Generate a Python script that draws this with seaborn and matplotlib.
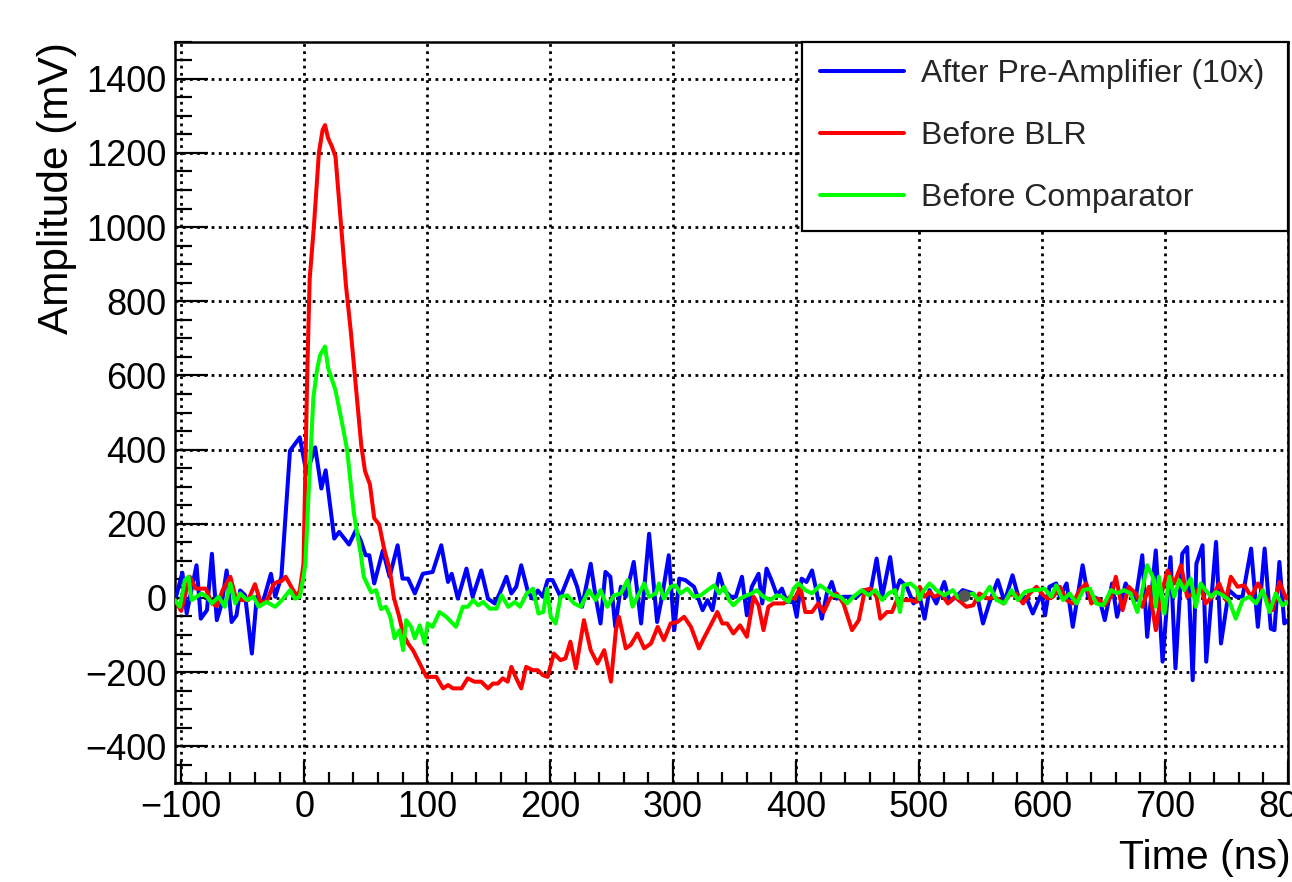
import matplotlib
matplotlib.use("Agg")
import matplotlib.pyplot as plt
import pandas as pd
import seaborn as sns
from matplotlib.ticker import MultipleLocator

# ---- series labels and colours ----
labels = ["After Pre-Amplifier (10x)", "Before BLR", "Before Comparator"]
colors = ["#0000ff", "#ff0000", "#00ff00"]

# ---- After pre-amplifier (x10), time in ns, amplitude in mV ----
preamp_t = [-104, -99, -95.5, -87.5, -84, -79, -75, -71, -67, -63, -59, -55, -52, -48, -42.5,
            -38.5, -34, -31.5, -27, -23.5, -18.5, -11.5, -3.5, 2, 9, 14, 17.5, 24.5, 28.5,
            36.5, 42, 46, 50, 53, 57, 64, 69.5, 76, 80, 84.5, 90, 96.5, 104.5, 111.5, 117,
            120, 125, 132, 137, 144, 149.5, 155, 159, 164.5, 168.5, 172.5, 176.5, 182, 186,
            190, 194, 198, 202, 208.5, 217, 222, 226, 233, 237, 241, 245, 249, 253, 257.5,
            261.5, 268, 274, 280.5, 287, 291, 296.5, 301, 305, 310, 317, 324, 328, 332,
            337.5, 341.5, 347, 351, 356, 360, 364, 369.5, 372.5, 376, 380, 384.5, 388.5,
            392.5, 398, 400.5, 404.5, 408.5, 413, 417, 421, 425, 429, 433, 438.5, 444,
            449.5, 455, 460, 465.5, 470, 476.5, 480.5, 484.5, 490, 495.5, 500.5, 504.5,
            508.5, 514, 520.5, 525, 530, 535.5, 544, 548, 552, 557, 564, 569.5, 576, 581.5,
            587, 592.5, 599.5, 602.5, 606, 611.5, 614.5, 620, 625, 633, 637.5, 641.5, 647,
            651, 657, 661, 668, 672, 676, 681.5, 685.5, 692.5, 698, 704.5, 708.5, 714, 718,
            722.5, 725.5, 730.5, 733.5, 741.5, 745.5, 752, 758, 763, 770, 775.5, 781, 786,
            789, 793, 797, 800]
preamp_v = [5, 68, -42, 88, -56, -33, 119, -60, -15, 74, -65, -47, 20, 7, -150,
            3, -15, 12, 65, 3, 57, 397, 433, 335, 406, 295, 344, 160, 178,
            144, 182, 155, 115, 115, 39, 128, 57, 142, 52, 52, 12, 65, 70, 142, 43,
            65, -2, 79, 3, 74, -2, -15, 12, 57, 12, 30, 88, 16, -2,
            20, 3, 48, 48, 3, 74, 30, -24, 92, 3, -69, 70, 57, -78, 30,
            3, 97, -69, 173, -65, 3, 115, -87, 52, 48, 30, -33, -6, -33,
            65, 21, 3, 3, 57, -47, 30, 65, -15, 79, 48, 7, 25,
            -11, -11, -51, 52, 43, 74, 12, -56, 12, 43, -2, 3, 3,
            3, 21, 7, 106, 3, 110, 12, 48, 30, -15, 3, -56,
            21, -15, 43, -11, 3, 21, 12, -6, -69, -15, 48, -11, 61, -6,
            3, -42, 12, -47, 30, 39, 3, 39, -78, 88, 3, 3, -6,
            -60, 39, -51, 39, 12, -6, 115, -105, 128, -172, 110, -190, 119, 137,
            -222, 92, 142, -172, 151, -123, 21, 3, 3, 133, -78, 133, -83,
            -87, 97, -69, -60]

# ---- Before baseline restorer ----
blr_t = [-105, -100, -93, -88, -80, -75, -71, -66, -60, -56, -51, -45.5, -40, -35, -30, -25,
         -22, -18.5, -15, -10, -6, -3.5, -0.5, 2.5, 4.5, 8, 12, 15, 17, 19.5, 22.5, 25.5, 30,
         34, 38, 42, 46.5, 49.5, 53.5, 57, 61, 65, 69.5, 73, 77, 80.5, 84.5, 88.5, 94, 99.5,
         107.5, 113, 117, 121, 128, 133, 138.5, 144, 149.5, 153.5, 157.5, 161.5, 165.5,
         168.5, 172.5, 176.5, 180.5, 186, 190, 194, 198, 203, 208.5, 212.5, 216.5, 221,
         227.5, 233, 238.5, 244, 249.5, 253.5, 256, 261.5, 265.5, 271, 276.5, 282, 287.5,
         292.5, 298, 303.5, 309, 314.5, 321, 325, 330.5, 336, 340, 344, 349, 354.5, 360,
         365.5, 369.5, 373.5, 377.5, 381.5, 390, 395, 399, 403.5, 407.5, 413, 418, 422.5,
         427.5, 433, 438.5, 445.5, 451, 456, 460.5, 465.5, 468.5, 474, 478, 482, 487.5,
         493, 498, 500.5, 504.5, 508.5, 512.5, 518, 523.5, 529, 538.5, 544, 549, 556,
         561.5, 568.5, 573.5, 579, 584.5, 590, 595.5, 601, 605, 609, 614.5, 620, 625,
         630.5, 636, 640, 645.5, 651, 656, 660, 665.5, 670.5, 676, 681.5, 687, 692.5,
         696.5, 702, 707.5, 713, 718, 723.5, 729, 733, 738.5, 744, 749.5, 753.5, 759,
         764.5, 770, 775.5, 782, 787.5, 793, 798.5, 800]
blr_v = [-6, -35, 57, 25, 25, -15, -22, 23, 57, 5, -6, -6, 37, -15, -6, 36,
         43, 45, 57, 27, 5, 20, 92, 600, 860, 1005, 1200, 1262, 1275, 1240, 1218, 1190, 1007,
         843, 717, 573, 410, 342, 306, 215, 198, 133, 78, 0, -47, -96, -123, -141, -177, -213,
         -213, -244, -235, -244, -244, -217, -226, -226, -244, -231, -231, -217, -226,
         -186, -217, -244, -186, -195, -195, -208, -213, -150, -168, -163, -118, -190,
         -60, -141, -177, -141, -226, -87, -51, -136, -127, -96, -136, -123, -78,
         -114, -69, -65, -51, -78, -136, -109, -74, -38, -69, -69, -96, -74, -105,
         3, -20, -87, -24, -15, -15, 3, -2, 30, -38, -38, -15, -38,
         -2, 12, -15, -87, -60, 21, 25, 3, -56, -38, -38, -6, -6,
         -6, -11, 30, 3, 16, 3, 12, -15, 3, -24, -20, 12, -2,
         3, -15, 7, 12, -15, 12, 30, 7, -2, 3, 30, -6, -15,
         21, 39, -15, -2, -20, 3, 57, -33, 30, 12, -24, 30, -87,
         3, 74, 39, 88, 3, 12, 30, -15, 3, 39, -6, 57, 30,
         34, 3, 39, 3, -33, 43, -2, 5]

# ---- Before comparator ----
comp_t = [-105, -101, -97, -94, -91.5, -87.5, -83.5, -79, -75, -69.5, -64.5, -60, -56, -52,
          -46.5, -41, -37, -30.5, -23.5, -18, -11.5, -7.5, -3.5, -0.5, 1, 3.5, 7.5, 10.5, 13,
          17, 19.5, 22, 25.5, 31, 35, 40.5, 46, 48.5, 51, 54.5, 58.5, 62.5, 66.5, 70, 73.5,
          77.5, 80.5, 83, 87, 90, 94, 98, 100.5, 104.5, 110, 115.5, 123.5, 129, 133, 137.5,
          141.5, 145.5, 151, 156.5, 160.5, 166, 171.5, 175.5, 181, 186, 190.5, 194.5, 197.5,
          200.5, 204.5, 208.5, 214, 219.5, 225, 231.5, 237, 241, 246.5, 252, 257.5, 263, 267,
          271, 276.5, 280.5, 286, 288.5, 292.5, 298, 302, 306, 311.5, 317, 322.5, 328, 333.5,
          337.5, 341.5, 345.5, 349, 354.5, 360, 364, 368, 373.5, 379, 384.5, 388.5, 394, 398,
          402, 407.5, 413, 419.5, 425, 430.5, 436, 441.5, 446.5, 453.5, 459, 464.5, 470, 475,
          480.5, 484.5, 487.5, 493, 498, 500.5, 503, 508.5, 514, 520.5, 527.5, 532, 537, 544,
          548, 552, 557.5, 563, 569.5, 575, 580.5, 586, 591.5, 596.5, 602, 607.5, 611.5, 617,
          622.5, 628, 633.5, 639, 644, 649.5, 652, 656, 661, 666.5, 672, 677.5, 681.5, 685.5,
          690, 692.5, 695, 699.5, 703.5, 707.5, 711.5, 715.5, 721, 725, 729, 733, 737.5,
          741.5, 747, 752, 757.5, 763, 768.5, 774, 779.5, 785, 790, 795.5, 800]
comp_v = [-6, -24, 48, 57, -6, 3, 12, 3, -15, 3, -24, 39, -15, 12,
          -6, 3, -24, -11, -24, -6, 21, -2, 3, 57, 92, 272, 540, 615, 655,
          678, 620, 595, 560, 469, 398, 227, 119, 57, 39, 15, 21, -30, -24, -50, -109,
          -87, -141, -60, -78, -109, -74, -123, -69, -78, -38, -51, -78, -24, -24, -6,
          -20, -11, -29, -29, 7, -24, -11, -24, 12, 25, -42, -38, 25,
          -51, -69, 3, 7, -15, -24, 21, -6, 21, -24, 7, 12, 48, -24,
          3, 39, 3, 12, 39, -2, 30, 34, 12, 25, 3, 7, 21, 34,
          12, 30, -6, -20, -2, 7, 12, 21, 3, -6, 7, 3, -11, 25,
          39, 21, 12, 34, 21, 7, 3, -15, 3, 21, 7, 21, -6, 12,
          21, -38, 34, 39, 25, -4, 16, 39, 21, 7, 21, 0, 5, 12,
          -6, 3, 30, -6, -15, 21, -6, 16, 21, 21, 25, 3, 34, -6,
          12, -15, 21, 25, -15, -20, -6, 21, 12, 21, 12, -38, 21, 88,
          57, -24, 57, -42, 57, 3, 48, 21, 52, -24, 39, 21, 3,
          16, 7, -6, -56, -6, 3, -15, 21, -38, 12, -20, -11]

# ---- single grey marker on the baseline ----
marker_t = [537]
marker_v = [5]

series = [(preamp_t, preamp_v), (blr_t, blr_v), (comp_t, comp_v)]

sns.set_style("white")
plt.rcParams["font.family"] = ["Liberation Sans", "DejaVu Sans"]

W, H = 1292, 882
fig = plt.figure(figsize=(W / 100, H / 100), dpi=100)
left, right, top, bottom = 175, 1288, 41.7, 783.3
ax = fig.add_axes([left / W, 1 - bottom / H, (right - left) / W, (bottom - top) / H])

for (t, v), lab, col in zip(series, labels, colors):
    df = pd.DataFrame({"t": t, "v": v})
    sns.lineplot(data=df, x="t", y="v", ax=ax, color=col, linewidth=2.9,
                 estimator=None, sort=False, label=lab, zorder=3)

sns.scatterplot(x=marker_t, y=marker_v, ax=ax, color="#555555", s=75,
                marker="o", edgecolor="none", zorder=5)

ax.set_xlim(-105, 800)
ax.set_ylim(-500, 1500)

ax.xaxis.set_major_locator(MultipleLocator(100))
ax.xaxis.set_minor_locator(MultipleLocator(20))
ax.yaxis.set_major_locator(MultipleLocator(200))
ax.yaxis.set_minor_locator(MultipleLocator(50))

ax.grid(True, which="major", color="black", linestyle=(0, (1, 1.6)), linewidth=2.0)
ax.set_axisbelow(True)

ax.tick_params(axis="both", which="both", direction="in", top=False, right=False,
               left=True, bottom=True, width=1.6, color="black",
               labelsize=26, labelcolor="black")
ax.tick_params(axis="y", which="major", length=23.8, pad=6)
ax.tick_params(axis="y", which="minor", length=11.9)
ax.tick_params(axis="x", which="major", length=15.8, pad=5)
ax.tick_params(axis="x", which="minor", length=7.9)

for sp in ax.spines.values():
    sp.set_linewidth(1.8)
    sp.set_color("black")

ax.set_xlabel("Time (ns)", fontsize=29.5, loc="right", color="black")
ax.xaxis.set_label_coords(1.002, -0.075)
ax.set_ylabel("Amplitude (mV)", fontsize=30.5, loc="top", color="black")
ax.yaxis.set_label_coords(-0.088, 1.0)

handles, labs = ax.get_legend_handles_labels()
leg = ax.legend(handles[:3], labs[:3], loc="upper left",
                bbox_to_anchor=(0.5633, 0.0, 0.4367, 1.0), mode="expand",
                borderaxespad=0, frameon=True, fancybox=False, edgecolor="black",
                framealpha=1, fontsize=23, handlelength=2.63, handletextpad=0.55,
                labelspacing=1.0, borderpad=0.55)
leg.get_frame().set_linewidth(1.6)
for h in leg.legend_handles:
    h.set_linewidth(2.9)

fig.savefig("out.png", dpi=100)
